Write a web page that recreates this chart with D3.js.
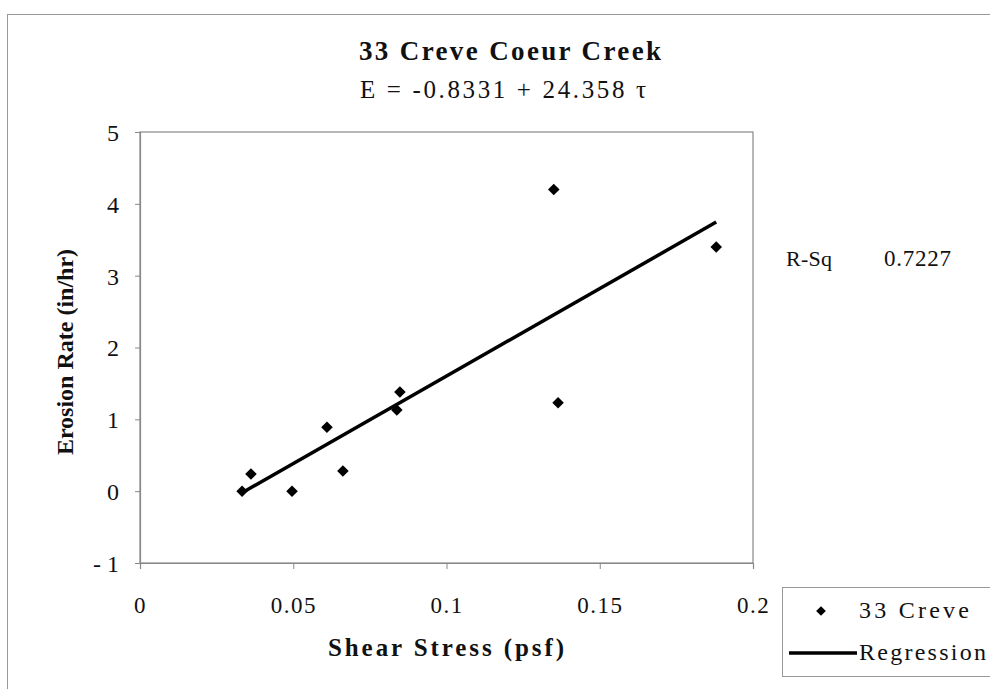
<!DOCTYPE html>
<html>
<head>
<meta charset="utf-8">
<script src="https://cdn.jsdelivr.net/npm/d3@7"></script>
<style>
  html, body { margin: 0; padding: 0; background: #fff; }
  svg { display: block; }
  text { font-family: "Liberation Serif", "Times New Roman", serif; fill: #111; }
</style>
</head>
<body>
<svg id="chart" width="990" height="689"></svg>
<script>
// ---- data ----
const shearStress = [0.0333, 0.0362, 0.0496, 0.0610, 0.0662, 0.0838, 0.0848, 0.1350, 0.1364, 0.1880];
const erosionRate = [0.00, 0.24, 0.00, 0.89, 0.28, 1.13, 1.38, 4.20, 1.23, 3.40];
const intercept = -0.8331;
const slope = 24.358;
const rSquared = "0.7227";
const xTicks = [0, 0.05, 0.1, 0.15, 0.2];
const xTickLabels = ["0", "0.05", "0.1", "0.15", "0.2"];
const yTicks = [-1, 0, 1, 2, 3, 4, 5];
const yTickLabels = ["- 1", "0", "1", "2", "3", "4", "5"];
const seriesName = "33 Creve";
const regressionName = "Regression";
const titleText = "33 Creve Coeur Creek";
const equationText = "E = -0.8331 + 24.358 \u03C4";

// ---- layout ----
const svg = d3.select("#chart");
const plot = { left: 140, right: 753, top: 132, bottom: 563 };
const x = d3.scaleLinear().domain([0, 0.2]).range([plot.left, plot.right]);
const y = d3.scaleLinear().domain([-1, 5]).range([plot.bottom, plot.top]);

// outer chart border
svg.append("rect").attr("x", 7.5).attr("y", 14.5).attr("width", 990).attr("height", 700)
  .attr("fill", "none").attr("stroke", "#999").attr("stroke-width", 1);

// plot frame
svg.append("rect").attr("x", plot.left).attr("y", plot.top)
  .attr("width", plot.right - plot.left).attr("height", plot.bottom - plot.top)
  .attr("fill", "none").attr("stroke", "#888").attr("stroke-width", 1.2);

// axes
const xAxis = d3.axisBottom(x).tickValues(xTicks).tickSize(6)
  .tickFormat((d, i) => xTickLabels[i]);
const gx = svg.append("g").attr("transform", `translate(0,${plot.bottom})`).call(xAxis);
gx.select(".domain").attr("stroke", "#888").attr("stroke-width", 1.2);
gx.selectAll(".tick line").attr("stroke", "#888");
gx.selectAll(".tick text").attr("dy", 0).attr("y", 50)
  .style("font-family", '"Liberation Serif", serif').style("font-size", "23px")
  .style("letter-spacing", "1.5px").attr("fill", "#111");

const yAxis = d3.axisLeft(y).tickValues(yTicks).tickSize(5)
  .tickFormat((d, i) => yTickLabels[i]);
const gy = svg.append("g").attr("transform", `translate(${plot.left},0)`).call(yAxis);
gy.select(".domain").attr("stroke", "#888").attr("stroke-width", 1.2);
gy.selectAll(".tick line").attr("stroke", "#888");
gy.selectAll(".tick text").attr("x", -21).attr("dy", "0.35em")
  .style("font-family", '"Liberation Serif", serif').style("font-size", "24px").attr("fill", "#111");

// regression line
const xMin = d3.min(shearStress), xMax = d3.max(shearStress);
const regPts = [xMin, xMax].map(t => [t, intercept + slope * t]);
svg.append("path")
  .attr("d", d3.line().x(d => x(d[0])).y(d => y(d[1]))(regPts))
  .attr("stroke", "#000").attr("stroke-width", 3.5).attr("fill", "none");

// points
const diamond = d3.symbol().type(d3.symbolDiamond2).size(85);
svg.append("g").selectAll("path").data(shearStress).join("path")
  .attr("d", diamond)
  .attr("transform", (d, i) => `translate(${x(d)},${y(erosionRate[i])})`)
  .attr("fill", "#000");

// titles
svg.append("text").attr("x", 359).attr("y", 60)
  .attr("textLength", 302).attr("lengthAdjust", "spacing")
  .style("font-size", "27px").style("font-weight", "bold")
  .text(titleText);
svg.append("text").attr("x", 360).attr("y", 98)
  .attr("textLength", 286).attr("lengthAdjust", "spacing")
  .style("font-size", "25px")
  .text(equationText);

svg.append("text").attr("x", 328).attr("y", 656)
  .attr("textLength", 236).attr("lengthAdjust", "spacing")
  .style("font-size", "25px").style("font-weight", "bold")
  .text("Shear Stress (psf)");
svg.append("text").attr("transform", "translate(73,352) rotate(-90)").attr("text-anchor", "middle")
  .style("font-size", "24px").style("font-weight", "bold")
  .text("Erosion Rate (in/hr)");

// R-Sq
svg.append("text").attr("x", 786).attr("y", 266)
  .attr("textLength", 46).attr("lengthAdjust", "spacing")
  .style("font-size", "22px").text("R-Sq");
svg.append("text").attr("x", 884).attr("y", 266)
  .attr("textLength", 67).attr("lengthAdjust", "spacing")
  .style("font-size", "23px").text(rSquared);

// legend
const lg = svg.append("g");
lg.append("rect").attr("x", 782.5).attr("y", 587.5).attr("width", 220).attr("height", 89)
  .attr("fill", "#fff").attr("stroke", "#999").attr("stroke-width", 1);
lg.append("path").attr("d", d3.symbol().type(d3.symbolDiamond2).size(60))
  .attr("transform", "translate(821,611)").attr("fill", "#000");
lg.append("text").attr("x", 859).attr("y", 618)
  .attr("textLength", 110).attr("lengthAdjust", "spacing")
  .style("font-size", "24px").text(seriesName);
lg.append("line").attr("x1", 789).attr("x2", 857).attr("y1", 653).attr("y2", 653)
  .attr("stroke", "#000").attr("stroke-width", 3.5);
lg.append("text").attr("x", 859).attr("y", 660)
  .attr("textLength", 127).attr("lengthAdjust", "spacing")
  .style("font-size", "24px").text(regressionName);
</script>
</body>
</html>
